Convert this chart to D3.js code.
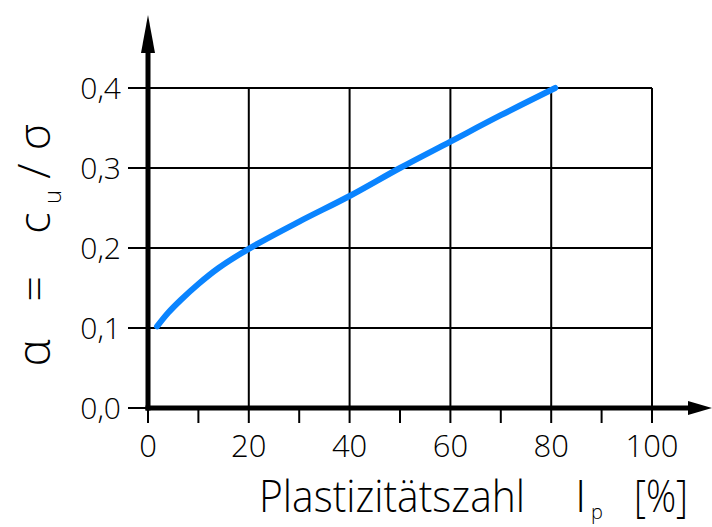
<!DOCTYPE html>
<html><head><meta charset="utf-8">
<script src="https://cdn.jsdelivr.net/npm/d3@7"></script>
<style>
html,body{margin:0;padding:0;background:#fff;}
svg{display:block;}
text{font-family:"Open Sans","DejaVu Sans",sans-serif;font-weight:300;fill:#000;}
</style></head>
<body>
<svg id="c" width="712" height="527"></svg>
<script>
const plasticityIndex = [1.8, 4, 6.5, 10, 14, 20, 30, 40, 50, 60, 70, 80.8];
const alphaValues     = [0.102, 0.119, 0.135, 0.155, 0.175, 0.199, 0.233, 0.265, 0.300, 0.333, 0.366, 0.400];
const xTicks = [0, 20, 40, 60, 80, 100];
const xMinorTicks = [10, 30, 50, 70, 90];
const yTicks = [0.0, 0.1, 0.2, 0.3, 0.4];
const yTickLabels = ["0,0", "0,1", "0,2", "0,3", "0,4"];

const svg = d3.select("#c");
const x = d3.scaleLinear().domain([0, 100]).range([148, 652]);
const y = d3.scaleLinear().domain([0, 0.4]).range([408, 88]);

// grid
const g = svg.append("g");
g.selectAll(".hg").data(yTicks.slice(1)).join("line")
  .attr("x1", x(0) - 20).attr("x2", x(100))
  .attr("y1", d => y(d)).attr("y2", d => y(d))
  .attr("stroke", "#000").attr("stroke-width", 2);
g.selectAll(".vg").data(xTicks.slice(1)).join("line")
  .attr("x1", d => x(d)).attr("x2", d => x(d))
  .attr("y1", y(0.4)).attr("y2", y(0) + 15)
  .attr("stroke", "#000").attr("stroke-width", 2);
g.append("line").attr("x1", x(0) - 20).attr("x2", x(0)).attr("y1", y(0)).attr("y2", y(0))
  .attr("stroke", "#000").attr("stroke-width", 2);
g.selectAll(".mt").data(xMinorTicks.concat([0])).join("line")
  .attr("x1", d => x(d)).attr("x2", d => x(d))
  .attr("y1", y(0)).attr("y2", y(0) + 15)
  .attr("stroke", "#000").attr("stroke-width", 2);

// axes
svg.append("line").attr("x1", x(0)).attr("x2", x(0)).attr("y1", 50).attr("y2", y(0) + 2.5)
  .attr("stroke", "#000").attr("stroke-width", 5);
svg.append("line").attr("x1", x(0) - 2.5).attr("x2", 690).attr("y1", y(0)).attr("y2", y(0))
  .attr("stroke", "#000").attr("stroke-width", 5);
svg.append("path").attr("d", `M${x(0)},15 L${x(0)+7},53 L${x(0)-7},53 Z`).attr("fill", "#000");
svg.append("path").attr("d", `M712,${y(0)} L688,${y(0)-7} L688,${y(0)+7} Z`).attr("fill", "#000");

// curve
const pts = plasticityIndex.map((v, i) => [v, alphaValues[i]]);
svg.append("path").datum(pts)
  .attr("d", d3.line().x(d => x(d[0])).y(d => y(d[1])).curve(d3.curveCatmullRom.alpha(0.5)))
  .attr("fill", "none").attr("stroke", "#0a84ff").attr("stroke-width", 6).attr("stroke-linecap", "round");

// tick labels
svg.selectAll(".yl").data(yTicks).join("text")
  .attr("x", 121).attr("y", d => y(d)).attr("dy", "0.36em")
  .attr("text-anchor", "end").attr("font-size", 30)
  .text((d, i) => yTickLabels[i]);
svg.selectAll(".xl").data(xTicks).join("text")
  .attr("x", d => x(d)).attr("y", 457)
  .attr("text-anchor", "middle").attr("font-size", 31)
  .text(d => d);

// x title
svg.append("text").attr("x", 259).attr("y", 512).attr("font-size", 45)
  .attr("textLength", 266).attr("lengthAdjust", "spacingAndGlyphs").text("Plastizitätszahl");
svg.append("text").attr("x", 575).attr("y", 512).attr("font-size", 45).text("I");
svg.append("text").attr("x", 591).attr("y", 519).attr("font-size", 20).text("p");
svg.append("text").attr("x", 634).attr("y", 512).attr("font-size", 45)
  .attr("textLength", 54).attr("lengthAdjust", "spacingAndGlyphs").text("[%]");

// y title pieces (rotated)
function rot(txt, cx, cy, size) {
  svg.append("text").attr("transform", `translate(${cx},${cy}) rotate(-90)`)
    .attr("text-anchor", "middle").attr("font-size", size).text(txt);
}
rot("α", 50, 353, 46);
rot("=", 50, 289, 45);
rot("c", 50, 223, 45);
rot("u", 61, 197, 24);
rot("/", 50, 171, 45);
rot("σ", 50, 137, 45);
</script>
</body></html>
